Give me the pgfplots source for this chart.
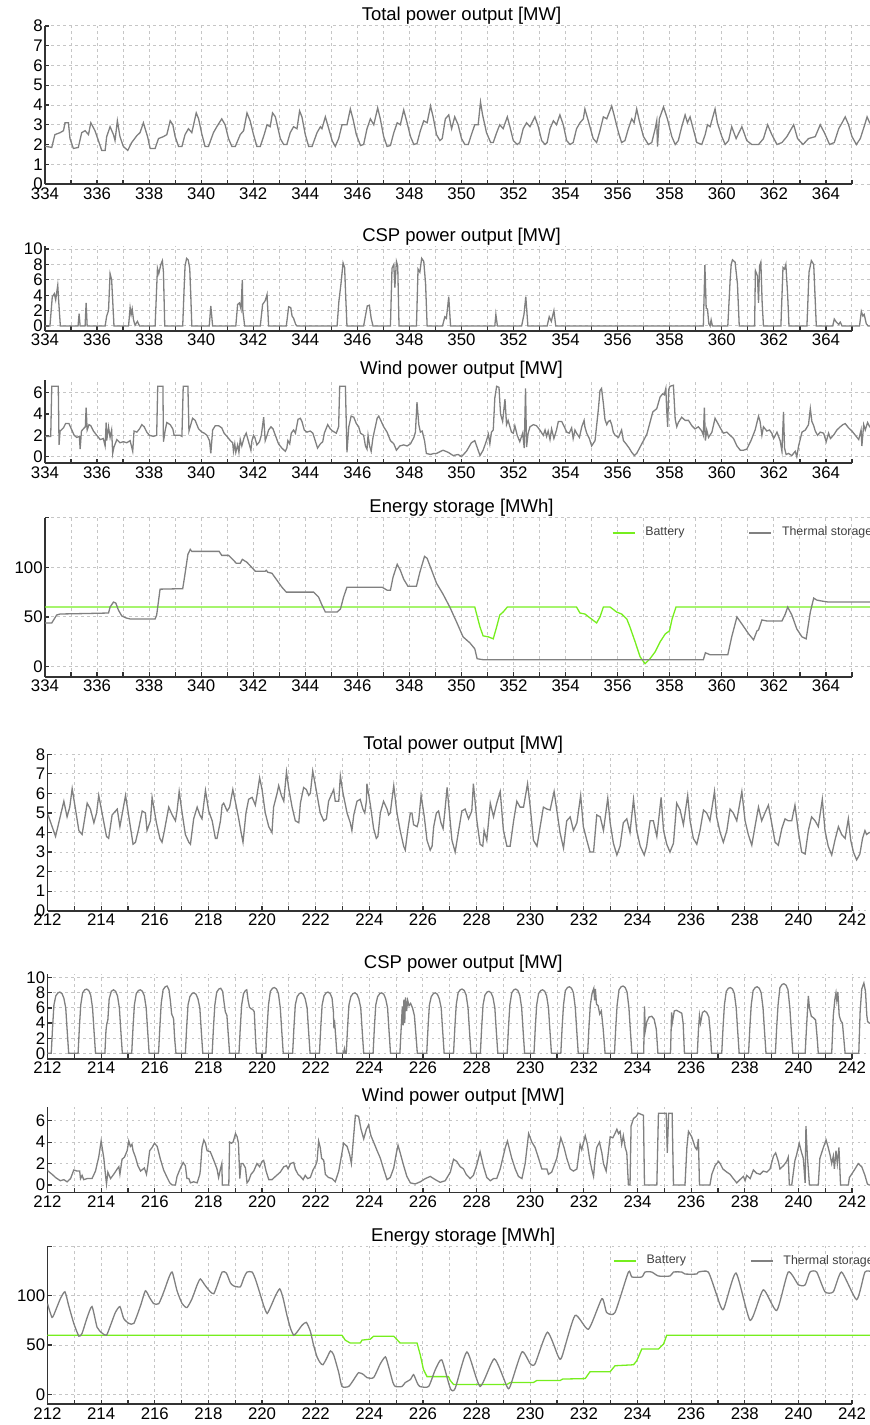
\documentclass[border=0pt]{standalone}
\usepackage{fontspec}
\setmainfont{Liberation Sans}
\usepackage{pgfplots}
\pgfplotsset{compat=1.18}

\definecolor{linegray}{RGB}{128,128,128}
\definecolor{battgreen}{RGB}{118,238,30}
\definecolor{gridgray}{RGB}{198,198,198}

\pgfplotsset{
  every axis title/.style={at={(0.5,1)}, anchor=base, yshift=2.5pt,
    font=\fontsize{9.25}{10}\selectfont},
  panel/.style={
    scale only axis,
    anchor=south west,
    axis lines*=left,
    axis line style={black!80, line width=0.9pt},
    tick align=inside,
    major tick length=2.2pt, minor tick length=2.2pt,
    tick style={black!80, line width=0.6pt},
    grid=both,
    major grid style={gridgray, dash pattern=on 1.4pt off 1.6pt, line width=0.5pt},
    minor grid style={gridgray, dash pattern=on 1.4pt off 1.6pt, line width=0.5pt},
    /pgf/number format/assume math mode=true,
    tick label style={font=\fontsize{8.4}{9}\selectfont},
    yticklabel style={inner xsep=1pt},
    xticklabel style={inner ysep=1.5pt},
    every axis plot/.append style={line width=0.65pt},
    legend style={draw=none, fill=none, inner sep=0pt, text=black!75,
      font=\fontsize{6.2}{7}\selectfont, legend columns=2,
      /tikz/every even column/.append style={column sep=30pt}},
    legend image code/.code={\draw[#1, line width=0.8pt] (0pt,0pt) -- (11pt,0pt); \path (14pt,0pt);},
  },
  toprow/.style={panel, width=416.5pt, xmin=334, xmax=366,
    xtick={334,336,...,364}, minor xtick={335,337,...,365},
    x axis line style={shorten >=13pt}},
  botrow/.style={panel, width=415.7pt, xmin=212, xmax=243,
    xtick={212,214,...,242}, minor xtick={213,215,...,243},
    x axis line style={shorten >=13.4pt}},
}

\begin{document}
\begin{tikzpicture}

% ---------- days 334-366 ----------
\begin{axis}[toprow, at={(22.5pt,-92pt)}, height=79pt,
  ymin=0, ymax=8, ytick={0,1,...,8},
  title={Total power output [MW]}]
\addplot[linegray] coordinates {
(334.00,1.9)(334.06,1.9)(334.26,1.85)(334.38,2.5)(334.58,2.6)(334.71,2.7)(334.77,3.1)(334.90,3.1)(334.96,2.3)(335.09,1.8)(335.28,1.85)(335.41,2.6)(335.54,2.7)(335.67,2.5)(335.76,3.1)(335.92,2.7)(336.05,2.2)(336.18,1.7)(336.31,1.7)(336.37,2.4)(336.50,2.9)(336.63,2.5)(336.69,2.2)(336.78,3.2)(336.88,2.4)(337.01,1.9)(337.18,1.7)(337.33,2.1)(337.53,2.45)(337.65,2.6)(337.78,3.1)(337.87,2.7)(337.94,2.4)(338.04,1.8)(338.23,1.8)(338.36,2.3)(338.55,2.4)(338.68,2.5)(338.81,3.2)(338.91,3.0)(339.00,2.4)(339.13,1.9)(339.26,1.9)(339.38,2.5)(339.51,2.8)(339.64,2.6)(339.81,3.6)(339.90,3.3)(340.03,2.5)(340.15,1.9)(340.28,1.9)(340.47,2.6)(340.60,2.9)(340.79,3.3)(340.92,3.0)(341.05,2.3)(341.18,1.9)(341.31,1.9)(341.50,2.5)(341.63,2.7)(341.76,3.6)(341.88,3.2)(342.01,2.5)(342.14,1.9)(342.27,1.9)(342.42,2.5)(342.53,3.0)(342.65,2.9)(342.74,3.6)(342.85,3.4)(343.04,2.3)(343.17,2.0)(343.29,2.0)(343.42,2.6)(343.55,2.9)(343.68,2.8)(343.78,3.7)(343.87,3.4)(344.00,2.5)(344.13,1.9)(344.26,1.9)(344.45,2.6)(344.58,2.9)(344.64,2.8)(344.77,3.4)(344.90,2.8)(345.03,2.2)(345.15,1.9)(345.28,2.3)(345.41,3.0)(345.60,3.0)(345.73,3.8)(345.83,3.3)(345.96,2.5)(346.12,1.95)(346.24,2.0)(346.37,2.8)(346.50,3.3)(346.63,3.0)(346.78,3.85)(346.88,3.3)(347.01,2.4)(347.14,1.9)(347.27,1.95)(347.40,2.6)(347.53,3.1)(347.65,3.0)(347.78,3.75)(347.91,3.1)(348.04,2.4)(348.17,2.0)(348.29,2.05)(348.42,2.7)(348.55,3.2)(348.68,3.1)(348.81,3.95)(348.91,3.4)(349.04,2.5)(349.17,2.2)(349.26,2.3)(349.38,3.3)(349.51,3.5)(349.62,2.8)(349.74,3.4)(349.87,3.0)(350.00,2.3)(350.13,2.0)(350.26,2.0)(350.38,2.5)(350.51,3.0)(350.64,3.0)(350.73,4.15)(350.81,3.5)(350.96,2.6)(351.12,2.1)(351.22,2.1)(351.35,2.6)(351.47,3.0)(351.60,2.8)(351.76,3.4)(351.86,2.9)(351.99,2.2)(352.14,2.0)(352.24,2.1)(352.37,2.8)(352.50,3.1)(352.63,2.9)(352.82,3.4)(352.95,2.9)(353.08,2.2)(353.21,2.0)(353.29,2.1)(353.40,2.8)(353.53,3.2)(353.65,3.0)(353.78,3.5)(353.91,3.0)(354.04,2.2)(354.17,2.0)(354.29,2.1)(354.42,2.8)(354.55,3.1)(354.68,3.3)(354.74,3.8)(354.87,3.2)(355.06,2.3)(355.19,2.1)(355.32,2.7)(355.45,3.4)(355.58,3.3)(355.77,3.95)(355.86,3.5)(356.03,2.6)(356.15,2.1)(356.28,2.2)(356.41,2.8)(356.54,3.3)(356.63,3.1)(356.73,3.8)(356.83,3.2)(356.99,2.4)(357.18,2.0)(357.31,2.1)(357.44,2.8)(357.50,3.2)(357.53,1.9)(357.60,3.3)(357.76,3.9)(357.91,3.3)(358.08,2.4)(358.21,2.0)(358.33,2.2)(358.46,2.9)(358.59,3.5)(358.68,3.1)(358.78,3.4)(358.94,2.6)(359.04,2.1)(359.23,2.0)(359.36,2.5)(359.45,3.0)(359.55,2.9)(359.74,3.8)(359.83,3.1)(360.00,2.4)(360.13,2.0)(360.26,2.2)(360.38,2.9)(360.55,2.3)(360.77,2.9)(360.96,2.2)(361.15,2.0)(361.41,2.0)(361.60,2.3)(361.76,3.0)(361.92,2.5)(362.12,2.0)(362.31,2.1)(362.50,2.4)(362.76,3.0)(362.91,2.3)(363.12,2.0)(363.33,2.3)(363.59,2.4)(363.78,3.0)(363.94,2.6)(364.14,2.0)(364.32,2.1)(364.49,2.8)(364.62,3.1)(364.74,3.4)(364.87,3.0)(365.00,2.4)(365.17,2.0)(365.32,2.3)(365.49,3.0)(365.58,3.4)(365.68,3.1)(365.80,3.0)
};
\end{axis}

\begin{axis}[toprow, at={(22.5pt,-165.3pt)}, height=42.3pt,
  ymin=-0.6, ymax=10.4, ytick={0,2,...,10},
  title={CSP power output [MW]}]
\addplot[linegray] coordinates {
(334.00,0)(334.19,0)(334.28,3.8)(334.36,4.2)(334.41,3.4)(334.49,5.3)(334.53,3.0)(334.59,0)(335.27,0)(335.31,1.6)(335.35,0)(335.54,0)(335.58,3.0)(335.62,0)(336.31,0)(336.37,1.3)(336.44,2.0)(336.50,6.8)(336.56,6.0)(336.65,0)(337.21,0)(337.27,2.4)(337.31,1.5)(337.35,2.2)(337.40,0.8)(337.46,0.1)(337.55,0.6)(337.63,0)(338.23,0)(338.32,7.5)(338.37,6.8)(338.45,8.0)(338.51,8.5)(338.55,7.0)(338.60,0)(339.29,0)(339.34,4.5)(339.38,7.8)(339.44,8.8)(339.50,8.6)(339.56,7.5)(339.60,4.0)(339.64,0)(340.31,0)(340.37,2.6)(340.44,0)(341.33,0)(341.40,2.8)(341.47,3.0)(341.53,2.2)(341.58,6.0)(341.60,2.0)(341.67,0)(342.27,0)(342.36,2.8)(342.46,3.3)(342.53,4.1)(342.59,0)(343.27,0)(343.36,2.5)(343.44,2.4)(343.49,1.3)(343.55,1.0)(343.63,0.2)(343.68,0)(345.22,0)(345.29,3.2)(345.37,5.5)(345.45,8.2)(345.51,7.6)(345.55,4.0)(345.60,0)(346.24,0)(346.32,1.5)(346.38,2.6)(346.46,2.7)(346.53,1.0)(346.60,0)(347.27,0)(347.33,7.5)(347.40,8.0)(347.44,5.0)(347.50,8.4)(347.55,7.8)(347.60,0)(348.27,0)(348.33,7.4)(348.40,7.0)(348.47,8.8)(348.55,8.4)(348.62,5.5)(348.68,0)(349.27,0)(349.36,1.2)(349.42,1.0)(349.51,3.8)(349.58,0)(351.28,0)(351.32,1.5)(351.38,0)(352.31,0)(352.40,1.5)(352.47,3.8)(352.55,0)(353.29,0)(353.37,1.2)(353.45,0.6)(353.55,2.0)(353.62,0)(359.29,0)(359.35,7.9)(359.40,2.3)(359.45,2.2)(359.50,0.3)(359.55,0)(359.59,0.8)(359.64,0)(360.23,0)(360.32,6.0)(360.36,8.0)(360.41,8.6)(360.51,8.3)(360.60,5.5)(360.67,0)(361.26,0)(361.29,7.2)(361.37,6.5)(361.41,3.0)(361.45,7.8)(361.50,8.3)(361.55,3.0)(361.60,0)(362.27,0)(362.35,7.6)(362.41,7.4)(362.46,8.0)(362.53,4.0)(362.58,0)(363.27,0)(363.35,7.0)(363.44,8.5)(363.53,8.0)(363.63,0)(364.26,0)(364.32,0.9)(364.40,0.5)(364.49,0.2)(364.55,0.5)(364.62,0)(365.29,0)(365.36,1.9)(365.42,1.3)(365.47,1.5)(365.55,0.3)(365.62,0)(365.80,0)
};
\end{axis}

\begin{axis}[toprow, at={(22.5pt,-231.5pt)}, height=41.55pt,
  ymin=-0.6, ymax=7.2, ytick={0,2,4,6},
  title={Wind power output [MW]}]
\addplot[linegray] coordinates {
(334.00,1.9)(334.22,1.9)(334.26,6.6)(334.51,6.6)(334.54,1.1)(334.58,2.4)(334.71,2.7)(334.79,3.1)(334.92,3.1)(335.03,2.5)(335.12,2.0)(335.22,1.8)(335.32,1.9)(335.35,0.7)(335.40,2.4)(335.47,2.6)(335.55,2.8)(335.58,4.6)(335.62,2.5)(335.69,3.0)(335.76,2.9)(335.86,2.4)(335.99,2.0)(336.12,1.6)(336.24,1.7)(336.31,1.0)(336.35,3.2)(336.37,1.5)(336.44,2.8)(336.50,1.8)(336.56,2.5)(336.60,0.3)(336.65,0.9)(336.76,1.6)(336.88,1.3)(337.01,1.4)(337.14,1.3)(337.27,1.5)(337.37,0.5)(337.42,2.4)(337.53,2.3)(337.63,2.6)(337.72,3.0)(337.81,2.8)(337.91,2.3)(338.01,2.0)(338.17,1.9)(338.29,2.0)(338.33,6.6)(338.53,6.6)(338.55,1.4)(338.62,2.5)(338.68,3.2)(338.81,3.0)(338.91,2.6)(338.96,2.0)(339.19,2.0)(339.26,1.9)(339.31,6.6)(339.49,6.6)(339.53,2.4)(339.60,3.0)(339.67,3.6)(339.77,3.4)(339.90,2.6)(340.03,2.3)(340.12,2.2)(340.22,2.0)(340.32,1.5)(340.37,0.3)(340.44,2.5)(340.54,2.9)(340.67,2.9)(340.79,2.7)(340.88,2.2)(340.99,1.9)(341.12,1.5)(341.21,1.3)(341.24,0.5)(341.29,1.2)(341.33,0.4)(341.40,1.1)(341.45,0.4)(341.50,1.6)(341.56,1.0)(341.65,1.8)(341.73,2.2)(341.82,1.4)(341.91,0.6)(341.95,1.5)(342.01,2.0)(342.06,1.8)(342.14,1.1)(342.24,1.4)(342.31,2.0)(342.40,3.7)(342.46,1.5)(342.53,2.0)(342.59,2.5)(342.68,2.8)(342.76,2.6)(342.85,2.0)(342.97,1.2)(343.10,0.8)(343.23,0.5)(343.29,0.8)(343.33,1.5)(343.40,1.2)(343.46,2.2)(343.55,2.5)(343.62,2.2)(343.72,3.5)(343.81,3.6)(343.87,3.3)(343.96,2.5)(344.06,2.3)(344.19,2.4)(344.29,2.2)(344.38,1.5)(344.47,0.8)(344.58,1.2)(344.67,1.4)(344.73,2.2)(344.86,3.0)(344.96,2.6)(345.05,2.4)(345.19,2.2)(345.28,2.8)(345.32,6.6)(345.54,6.6)(345.60,0.4)(345.67,2.8)(345.76,3.8)(345.86,3.7)(345.96,3.1)(346.05,2.8)(346.12,2.2)(346.24,2.0)(346.31,1.0)(346.37,0.7)(346.41,2.0)(346.47,1.0)(346.53,0.5)(346.60,1.8)(346.69,2.8)(346.76,3.6)(346.82,3.8)(346.88,3.5)(347.01,2.8)(347.14,2.3)(347.27,1.5)(347.40,1.2)(347.50,0.6)(347.63,1.0)(347.78,1.1)(347.91,1.0)(348.04,1.2)(348.17,1.8)(348.23,2.3)(348.29,5.1)(348.36,3.0)(348.42,2.3)(348.49,2.4)(348.58,1.5)(348.65,0.3)(348.81,0.2)(348.94,0.3)(349.04,0.3)(349.29,0.6)(349.49,0.4)(349.68,0.1)(349.87,0.2)(350.00,0.0)(350.19,0.5)(350.38,1.3)(350.51,1.5)(350.64,0.6)(350.71,0.1)(350.83,0.6)(350.96,1.5)(351.03,2.1)(351.09,1.2)(351.15,2.3)(351.22,2.5)(351.28,5.5)(351.35,6.6)(351.44,6.5)(351.50,4.0)(351.58,3.3)(351.67,5.4)(351.73,3.0)(351.79,3.4)(351.86,2.8)(351.92,2.3)(351.99,2.2)(352.05,2.9)(352.14,2.0)(352.24,1.4)(352.35,2.2)(352.41,0.8)(352.46,6.4)(352.50,0.9)(352.56,2.2)(352.63,2.8)(352.76,3.0)(352.88,2.9)(353.01,2.5)(353.14,2.0)(353.21,2.5)(353.27,1.9)(353.33,2.4)(353.40,1.6)(353.46,2.6)(353.55,1.7)(353.65,2.5)(353.72,3.3)(353.85,3.3)(353.97,2.7)(354.04,2.3)(354.14,2.2)(354.23,2.7)(354.29,1.7)(354.36,2.5)(354.42,2.2)(354.53,1.8)(354.62,2.8)(354.71,3.4)(354.74,2.8)(354.81,2.2)(354.91,1.7)(355.00,1.0)(355.13,1.5)(355.26,4.5)(355.32,6.2)(355.38,6.4)(355.45,5.0)(355.51,3.5)(355.58,3.0)(355.64,3.3)(355.71,3.4)(355.77,3.0)(355.83,2.3)(355.90,2.0)(356.03,1.8)(356.15,2.5)(356.22,1.5)(356.32,1.2)(356.44,0.8)(356.54,0.4)(356.64,0.1)(356.73,0.3)(356.86,0.9)(356.99,1.5)(357.12,2.1)(357.24,3.2)(357.35,4.2)(357.50,4.5)(357.63,5.6)(357.73,5.9)(357.79,5.8)(357.85,6.4)(357.88,4.5)(357.92,2.8)(357.96,6.3)(358.01,6.6)(358.14,6.7)(358.21,3.5)(358.27,2.8)(358.33,3.2)(358.46,3.7)(358.59,3.4)(358.72,3.4)(358.85,2.9)(358.97,2.6)(359.10,2.8)(359.23,2.4)(359.29,2.0)(359.33,4.6)(359.37,1.5)(359.42,2.5)(359.49,1.8)(359.62,2.3)(359.74,3.6)(359.83,3.2)(359.94,2.7)(360.06,2.2)(360.19,2.3)(360.32,2.0)(360.45,1.7)(360.58,1.0)(360.71,0.6)(360.83,0.6)(360.96,0.7)(361.12,1.5)(361.28,2.5)(361.41,3.8)(361.47,3.3)(361.54,2.0)(361.60,2.8)(361.73,2.4)(361.83,2.5)(361.92,2.2)(361.99,1.7)(362.12,2.3)(362.24,1.5)(362.31,0.5)(362.37,4.2)(362.41,0.8)(362.47,0.2)(362.56,0.3)(362.69,0.1)(362.82,0.5)(362.88,0.0)(362.95,1.0)(363.08,2.3)(363.21,2.5)(363.33,3.0)(363.40,4.5)(363.46,3.3)(363.53,2.9)(363.59,2.4)(363.68,2.0)(363.78,2.3)(363.91,2.2)(364.01,1.4)(364.10,2.2)(364.17,1.7)(364.29,2.0)(364.42,2.5)(364.55,2.8)(364.65,3.0)(364.74,3.1)(364.87,2.7)(365.00,2.4)(365.13,2.0)(365.26,1.6)(365.35,2.5)(365.38,1.0)(365.45,3.0)(365.51,2.5)(365.60,3.2)(365.68,2.8)(365.80,2.6)
};
\end{axis}

\begin{axis}[toprow, at={(22.5pt,-338.3pt)}, height=79.5pt,
  ymin=-10, ymax=150, ytick={0,50,100,150}, yticklabels={0,50,100,{}},
  title={Energy storage [MWh]},
  legend style={at={(0.68,0.905)}, anchor=west}]
\addplot[battgreen] coordinates {
(334.00,60)(350.51,60)(350.71,40)(350.83,31)(351.03,30)(351.22,28)(351.35,40)(351.47,52)(351.60,55)(351.76,60)(354.42,60)(354.55,54)(354.74,53)(354.94,49)(355.19,44)(355.32,50)(355.45,60)(355.71,60)(355.96,55)(356.15,53)(356.35,48)(356.47,40)(356.67,25)(356.86,10)(357.05,3)(357.24,8)(357.44,15)(357.63,25)(357.83,33)(357.99,36)(358.09,48)(358.24,60)(365.80,60)
};
\addlegendentry{Battery}
\addplot[linegray] coordinates {
(334.00,44)(334.26,44)(334.45,52)(334.58,53)(335.60,53.5)(336.44,54)(336.50,60)(336.63,65)(336.72,64)(336.82,57)(336.95,51)(337.12,49)(337.27,48)(338.23,48)(338.29,52)(338.42,78)(339.29,78.5)(339.36,90)(339.49,113)(339.58,118)(339.64,116)(340.69,116)(340.79,112)(341.05,112)(341.21,108)(341.35,104)(341.50,104)(341.58,108)(341.76,105)(342.08,96)(342.46,96)(342.50,97)(342.56,95)(342.72,94)(342.91,87)(343.10,80)(343.27,75)(344.32,75)(344.51,70)(344.64,62)(344.77,55)(345.22,55)(345.35,58)(345.47,70)(345.60,80)(346.95,80)(347.14,77)(347.27,77)(347.37,90)(347.53,103)(347.65,97)(347.78,88)(347.94,81)(348.27,81)(348.40,95)(348.58,111)(348.68,109)(348.81,100)(349.04,84)(349.29,73)(349.55,60)(349.81,45)(350.06,30)(350.32,24)(350.51,18)(350.60,8)(350.83,7)(359.29,7)(359.37,14)(359.55,12)(360.23,12)(360.38,30)(360.58,50)(360.77,43)(361.03,33)(361.22,27)(361.35,36)(361.41,37)(361.54,47)(361.73,46)(362.31,46)(362.44,53)(362.53,60)(362.69,52)(362.88,38)(363.08,30)(363.24,28)(363.40,55)(363.53,69)(363.65,67)(363.85,66)(364.10,65)(365.80,65)
};
\addlegendentry{Thermal storage}
\end{axis}

% ---------- days 212-243 ----------
\begin{axis}[botrow, at={(23.75pt,-455.35pt)}, height=78.2pt,
  ymin=0, ymax=8, ytick={0,1,...,8},
  title={Total power output [MW]}]
\addplot[linegray] coordinates {
(212.00,4.9)(212.02,4.9)(212.30,3.8)(212.61,5.6)(212.73,4.8)(212.83,5.3)(212.92,6.25)(213.17,4.1)(213.29,3.9)(213.48,5.5)(213.60,5.2)(213.73,4.5)(213.83,5.0)(213.91,5.9)(214.20,3.8)(214.28,3.7)(214.41,4.9)(214.60,5.2)(214.70,4.3)(214.91,5.9)(215.19,3.4)(215.28,3.5)(215.40,4.2)(215.53,5.1)(215.65,5.0)(215.71,4.1)(215.84,4.6)(215.90,5.8)(216.06,4.5)(216.19,3.7)(216.27,3.5)(216.36,4.1)(216.52,5.3)(216.65,4.9)(216.77,4.6)(216.83,5.1)(216.91,6.1)(217.02,5.0)(217.14,3.9)(217.27,3.5)(217.33,3.4)(217.45,4.7)(217.58,5.3)(217.68,4.9)(217.76,4.7)(217.89,6.15)(218.01,5.1)(218.14,4.6)(218.26,3.7)(218.32,3.7)(218.45,4.6)(218.51,5.4)(218.57,5.5)(218.70,5.1)(218.79,5.3)(218.91,6.2)(219.03,5.4)(219.13,4.7)(219.22,4.0)(219.29,3.5)(219.40,5.0)(219.50,5.7)(219.63,5.8)(219.75,5.4)(219.81,5.9)(219.91,6.8)(220.00,6.2)(220.12,5.0)(220.25,4.3)(220.37,4.0)(220.43,5.3)(220.56,6.0)(220.62,6.4)(220.72,5.9)(220.81,5.6)(220.91,7.1)(220.99,6.3)(221.12,5.3)(221.24,4.6)(221.37,4.5)(221.43,5.5)(221.55,6.3)(221.65,6.2)(221.74,5.9)(221.80,6.0)(221.89,7.15)(221.99,6.4)(222.17,5.0)(222.30,4.6)(222.40,4.7)(222.48,5.6)(222.67,6.2)(222.73,5.6)(222.86,5.6)(222.92,6.9)(223.02,6.0)(223.17,5.0)(223.29,4.5)(223.35,4.1)(223.42,4.9)(223.54,5.6)(223.66,5.7)(223.76,5.2)(223.83,5.0)(223.89,5.6)(223.91,6.5)(224.04,5.4)(224.16,4.2)(224.26,3.7)(224.32,3.8)(224.41,5.0)(224.53,5.6)(224.66,5.2)(224.72,4.9)(224.78,5.0)(224.91,6.4)(225.03,5.0)(225.15,4.1)(225.28,3.3)(225.34,3.1)(225.43,4.1)(225.53,5.0)(225.59,5.0)(225.65,4.4)(225.78,4.3)(225.84,4.6)(225.93,5.9)(226.05,4.8)(226.15,3.6)(226.27,3.1)(226.34,3.3)(226.40,4.3)(226.50,5.0)(226.58,5.1)(226.67,4.5)(226.75,4.2)(226.81,5.0)(226.90,6.3)(227.08,3.6)(227.20,3.0)(227.33,4.1)(227.45,5.1)(227.57,5.2)(227.70,4.7)(227.82,5.1)(227.88,6.5)(228.01,4.6)(228.13,3.4)(228.23,3.3)(228.28,4.1)(228.38,3.6)(228.51,5.5)(228.63,4.8)(228.75,5.5)(228.88,6.1)(229.00,4.1)(229.13,3.3)(229.25,3.3)(229.38,4.6)(229.50,5.6)(229.62,5.3)(229.75,5.3)(229.90,6.5)(230.00,5.3)(230.12,3.6)(230.25,3.3)(230.37,4.3)(230.49,5.3)(230.62,5.2)(230.74,5.15)(230.89,6.1)(230.99,5.15)(231.11,4.0)(231.24,3.2)(231.36,4.6)(231.49,4.8)(231.61,4.1)(231.74,4.5)(231.88,5.9)(231.98,4.3)(232.11,3.6)(232.23,3.0)(232.36,3.0)(232.48,4.9)(232.61,4.8)(232.73,4.1)(232.89,5.75)(232.98,4.5)(233.10,3.45)(233.23,2.85)(233.35,3.3)(233.47,4.5)(233.60,4.7)(233.72,4.0)(233.85,5.7)(233.97,4.1)(234.10,3.3)(234.25,2.85)(234.34,3.3)(234.47,4.6)(234.59,4.6)(234.72,3.8)(234.88,5.8)(234.97,4.1)(235.09,3.4)(235.21,3.0)(235.34,3.45)(235.46,5.5)(235.59,5.15)(235.71,4.4)(235.87,5.9)(235.96,4.6)(236.08,3.7)(236.21,3.4)(236.33,4.1)(236.46,5.15)(236.58,5.0)(236.70,4.6)(236.87,6.1)(236.95,4.8)(237.08,4.0)(237.20,3.5)(237.33,4.1)(237.45,5.2)(237.57,5.0)(237.70,4.6)(237.89,6.1)(238.01,4.6)(238.13,3.9)(238.26,3.35)(238.38,4.3)(238.51,5.3)(238.63,4.6)(238.75,5.0)(238.88,5.4)(239.00,4.5)(239.13,3.5)(239.25,3.35)(239.38,4.2)(239.50,4.7)(239.62,4.6)(239.75,4.6)(239.87,5.4)(240.00,4.0)(240.12,3.0)(240.25,2.9)(240.37,4.1)(240.49,4.8)(240.62,4.6)(240.74,4.3)(240.89,5.7)(240.99,4.1)(241.11,3.3)(241.24,2.85)(241.36,3.6)(241.49,4.3)(241.61,3.9)(241.74,3.7)(241.86,4.7)(241.95,3.6)(242.05,3.0)(242.17,2.6)(242.29,2.9)(242.39,3.7)(242.48,4.1)(242.54,3.9)(242.64,4.0)(242.75,4.0)
};
\end{axis}

\begin{axis}[botrow, at={(23.75pt,-529.3pt)}, height=42.35pt,
  ymin=-0.7, ymax=10.5, ytick={0,2,...,10},
  title={CSP power output [MW]}]
\addplot[linegray] coordinates {
(212.00,0)(212.14,0)(212.19,3.5)(212.24,6.4)(212.31,7.6)(212.39,8.0)(212.46,8.1)(212.54,7.9)(212.61,7.3)(212.68,6.0)(212.73,3.2)(212.79,0)
(213.14,0)(213.19,3.5)(213.24,6.4)(213.31,8.0)(213.39,8.4)(213.46,8.5)(213.54,8.3)(213.61,7.7)(213.68,6.0)(213.73,3.2)(213.79,0)
(214.14,0)(214.18,3.0)(214.21,3.9)(214.25,4.4)(214.30,7.2)(214.38,8.2)(214.46,8.4)(214.54,8.2)(214.61,7.6)(214.68,6.0)(214.73,3.2)(214.79,0)
(215.14,0)(215.19,3.5)(215.24,6.4)(215.31,7.9)(215.39,8.3)(215.46,8.4)(215.54,8.2)(215.61,7.6)(215.68,6.0)(215.73,3.2)(215.79,0)
(216.14,0)(216.19,3.5)(216.24,6.6)(216.31,8.4)(216.39,8.8)(216.46,8.9)(216.53,8.4)(216.58,7.0)(216.63,5.2)(216.70,4.6)(216.74,2.0)(216.79,0)
(217.14,0)(217.19,3.5)(217.24,6.4)(217.31,7.5)(217.39,7.9)(217.46,8.0)(217.54,7.8)(217.61,7.2)(217.68,6.0)(217.73,3.2)(217.79,0)
(218.14,0)(218.19,3.5)(218.24,6.4)(218.31,8.1)(218.39,8.5)(218.46,8.6)(218.53,8.2)(218.58,6.8)(218.63,5.5)(218.69,5.0)(218.74,2.5)(218.79,0)
(219.14,0)(219.19,3.5)(219.24,6.4)(219.31,7.9)(219.38,8.3)(219.43,8.4)(219.48,7.0)(219.53,6.1)(219.59,5.9)(219.65,5.8)(219.71,5.5)(219.75,2.5)(219.79,0)
(220.14,0)(220.19,3.5)(220.24,6.4)(220.31,8.2)(220.39,8.6)(220.46,8.7)(220.54,8.5)(220.61,7.9)(220.68,6.0)(220.73,3.2)(220.79,0)
(221.14,0)(221.19,3.5)(221.24,6.4)(221.31,7.5)(221.39,7.9)(221.46,8.0)(221.54,7.8)(221.61,7.2)(221.68,6.0)(221.73,3.2)(221.79,0)
(222.14,0)(222.19,3.5)(222.24,6.4)(222.31,7.6)(222.39,8.0)(222.46,8.1)(222.54,7.9)(222.61,7.3)(222.66,5.5)(222.68,3.3)(222.70,4.4)(222.74,2.5)(222.79,0)
(223.04,0)(223.07,0.6)(223.10,0)(223.14,0)(223.19,3.5)(223.24,6.4)(223.31,7.5)(223.39,7.9)(223.46,8.0)(223.54,7.8)(223.61,7.2)(223.68,6.0)(223.73,3.2)(223.79,0)
(224.14,0)(224.19,3.5)(224.24,6.4)(224.31,7.5)(224.39,7.9)(224.46,8.0)(224.54,7.8)(224.61,7.2)(224.68,6.0)(224.73,3.2)(224.79,0)
(225.14,0)(225.19,3.5)(225.23,6.2)(225.26,3.7)(225.29,7.1)(225.32,4.0)(225.35,7.4)(225.39,5.6)(225.43,7.0)(225.48,6.3)(225.54,6.6)(225.61,6.0)(225.68,5.0)(225.73,2.8)(225.79,0)
(226.14,0)(226.19,3.5)(226.24,6.4)(226.31,7.5)(226.39,7.9)(226.46,8.0)(226.54,7.8)(226.61,7.2)(226.68,6.0)(226.73,3.2)(226.79,0)
(227.14,0)(227.19,3.5)(227.24,6.4)(227.31,8.0)(227.39,8.4)(227.46,8.5)(227.54,8.3)(227.61,7.7)(227.68,6.0)(227.73,3.2)(227.79,0)
(228.14,0)(228.19,3.5)(228.24,6.4)(228.31,7.7)(228.39,8.1)(228.46,8.2)(228.54,8.0)(228.61,7.4)(228.68,6.0)(228.73,3.2)(228.79,0)
(229.14,0)(229.19,3.5)(229.24,6.4)(229.31,8.0)(229.39,8.4)(229.46,8.5)(229.54,8.3)(229.61,7.7)(229.68,6.0)(229.73,3.2)(229.79,0)
(230.14,0)(230.19,3.5)(230.24,6.4)(230.31,7.9)(230.39,8.3)(230.46,8.4)(230.54,8.2)(230.61,7.6)(230.68,6.0)(230.73,3.2)(230.79,0)
(231.14,0)(231.19,3.5)(231.24,6.4)(231.31,8.3)(231.39,8.7)(231.46,8.8)(231.54,8.6)(231.61,8.0)(231.68,6.0)(231.73,3.2)(231.79,0)
(232.14,0)(232.19,3.5)(232.24,6.4)(232.31,8.0)(232.37,8.6)(232.40,7.0)(232.43,8.5)(232.47,6.5)(232.53,6.3)(232.59,5.2)(232.65,5.6)(232.72,3.2)(232.79,0)
(233.14,0)(233.19,3.5)(233.24,6.4)(233.31,8.4)(233.39,8.8)(233.46,8.9)(233.54,8.7)(233.61,8.1)(233.68,6.0)(233.73,3.2)(233.79,0)
(234.23,0)(234.26,6.2)(234.29,3.0)(234.35,4.2)(234.43,4.8)(234.53,4.9)(234.62,4.5)(234.70,3.2)(234.76,0)
(235.23,0)(235.27,5.4)(235.30,4.1)(235.37,5.6)(235.45,5.7)(235.55,5.5)(235.65,5.3)(235.70,4.0)(235.75,0)
(236.23,0)(236.27,3.0)(236.31,5.0)(236.35,4.0)(236.42,5.4)(236.50,5.6)(236.58,5.4)(236.66,4.8)(236.72,2.5)(236.76,0)
(237.14,0)(237.19,3.5)(237.24,6.4)(237.31,8.2)(237.39,8.6)(237.46,8.7)(237.54,8.5)(237.61,7.9)(237.68,6.0)(237.73,3.2)(237.79,0)
(238.14,0)(238.19,3.5)(238.24,6.4)(238.31,8.3)(238.39,8.7)(238.46,8.8)(238.54,8.6)(238.61,8.0)(238.68,6.0)(238.73,3.2)(238.79,0)
(239.14,0)(239.19,3.5)(239.24,6.4)(239.31,8.7)(239.39,9.1)(239.46,9.2)(239.54,9.0)(239.61,8.4)(239.68,6.0)(239.73,3.2)(239.79,0)
(240.25,0)(240.31,4.0)(240.37,7.6)(240.41,6.0)(240.48,4.9)(240.56,4.7)(240.64,4.4)(240.70,2.0)(240.74,0)
(241.24,0)(241.30,5.0)(241.36,7.2)(241.40,8.0)(241.43,7.0)(241.47,8.1)(241.52,5.0)(241.58,4.3)(241.64,4.0)(241.69,2.0)(241.74,0)
(242.25,0)(242.30,5.5)(242.36,8.5)(242.44,9.3)(242.50,8.2)(242.55,5.0)(242.58,4.2)(242.64,4.0)(242.75,3.9)
};
\end{axis}

\begin{axis}[botrow, at={(23.75pt,-596.25pt)}, height=42.9pt,
  ymin=-0.7, ymax=7.3, ytick={0,2,4,6},
  title={Wind power output [MW]}]
\addplot[linegray] coordinates {
(212.00,1.4)(212.02,1.3)(212.17,1.0)(212.30,0.7)(212.48,0.4)(212.61,0.5)(212.73,0.3)(212.86,0.6)(212.98,1.4)(213.10,1.3)(213.20,1.3)(213.23,0.6)(213.29,0.9)(213.35,0.5)(213.48,0.6)(213.66,0.6)(213.79,1.3)(213.91,2.6)(214.00,4.1)(214.10,2.5)(214.16,1.0)(214.20,0.1)(214.25,1.2)(214.35,0.6)(214.47,1.0)(214.60,1.5)(214.66,1.7)(214.70,1.0)(214.78,2.4)(214.87,2.6)(214.97,3.2)(215.03,4.1)(215.09,3.6)(215.15,3.8)(215.19,3.2)(215.28,2.6)(215.37,1.8)(215.47,1.3)(215.57,1.5)(215.61,1.6)(215.69,1.0)(215.74,1.8)(215.81,3.2)(215.90,3.5)(215.99,3.9)(216.09,3.6)(216.21,2.4)(216.33,1.4)(216.46,0.7)(216.56,0.2)(216.65,0.0)(216.77,0.0)(216.83,0.8)(216.96,1.6)(217.06,2.1)(217.14,1.8)(217.20,0.6)(217.27,0.6)(217.33,0.2)(217.45,0.3)(217.58,0.2)(217.68,1.0)(217.70,1.4)(217.76,3.5)(217.83,4.2)(217.89,3.9)(217.95,3.2)(218.07,3.1)(218.20,2.3)(218.32,1.5)(218.38,0.7)(218.45,1.5)(218.50,2.0)(218.52,0.0)(218.76,0.0)(218.79,4.0)(218.86,3.9)(218.92,4.0)(219.01,4.8)(219.07,4.5)(219.12,3.9)(219.17,0.6)(219.22,2.0)(219.29,2.0)(219.38,1.6)(219.44,0.2)(219.50,0.4)(219.59,1.0)(219.69,1.3)(219.81,2.0)(219.91,1.7)(220.00,2.2)(220.06,2.3)(220.15,1.3)(220.25,0.5)(220.37,0.5)(220.50,0.8)(220.68,1.2)(220.81,1.7)(220.91,1.8)(220.97,1.5)(221.06,2.0)(221.18,2.1)(221.24,1.5)(221.34,1.0)(221.43,0.8)(221.53,0.5)(221.61,0.9)(221.70,0.6)(221.80,0.7)(221.90,1.4)(221.99,1.8)(222.05,2.2)(222.11,4.1)(222.17,3.5)(222.22,2.5)(222.30,2.3)(222.36,1.0)(222.48,0.7)(222.61,0.6)(222.73,0.3)(222.86,1.3)(222.98,3.0)(223.04,3.9)(223.17,3.6)(223.27,2.8)(223.33,2.0)(223.39,3.8)(223.48,6.5)(223.60,6.4)(223.69,5.2)(223.79,4.3)(223.89,5.2)(223.97,5.6)(224.06,4.6)(224.16,4.0)(224.29,3.2)(224.41,2.5)(224.53,1.5)(224.66,0.5)(224.78,0.7)(224.91,1.6)(225.01,3.0)(225.07,3.7)(225.15,3.0)(225.28,1.8)(225.40,0.8)(225.53,0.2)(225.71,0.1)(225.90,0.3)(226.09,0.6)(226.27,0.8)(226.46,0.5)(226.64,0.25)(226.83,0.4)(227.02,1.2)(227.14,2.4)(227.26,2.2)(227.39,1.7)(227.51,1.5)(227.61,1.0)(227.76,0.6)(227.88,0.9)(228.01,1.9)(228.13,3.1)(228.26,1.7)(228.38,0.7)(228.51,0.4)(228.63,0.6)(228.75,0.6)(228.88,1.5)(229.07,3.5)(229.15,4.1)(229.31,2.5)(229.44,1.5)(229.56,0.8)(229.69,0.6)(229.81,2.0)(229.94,4.8)(230.06,4.0)(230.18,3.5)(230.31,2.5)(230.43,1.5)(230.56,1.5)(230.62,1.5)(230.68,1.0)(230.80,1.2)(230.99,2.5)(231.14,4.4)(231.26,3.5)(231.36,2.5)(231.49,1.5)(231.61,1.3)(231.74,1.5)(231.86,3.8)(231.92,3.3)(231.98,3.9)(232.05,4.6)(232.13,3.8)(232.21,2.5)(232.29,1.5)(232.36,0.8)(232.42,2.5)(232.48,3.5)(232.58,4.0)(232.67,3.0)(232.73,2.0)(232.83,1.3)(232.92,3.2)(232.98,4.5)(233.08,4.4)(233.16,4.8)(233.23,5.2)(233.29,4.8)(233.35,5.0)(233.41,3.8)(233.47,4.6)(233.54,3.5)(233.60,3.0)(233.66,0.0)(233.72,0.0)(233.76,5.5)(233.85,6.2)(233.95,6.4)(234.03,6.7)(234.22,6.5)(234.26,0.0)(234.72,0.0)(234.78,6.7)(235.07,6.7)(235.11,3.0)(235.16,6.7)(235.29,6.7)(235.34,0.0)(235.77,0.0)(235.84,3.5)(235.90,5.0)(236.02,4.5)(236.15,3.5)(236.21,3.3)(236.27,4.3)(236.31,0.0)(236.70,0.0)(236.77,1.0)(236.89,1.8)(237.02,2.2)(237.08,2.0)(237.18,1.5)(237.33,1.2)(237.45,1.0)(237.57,0.6)(237.70,0.2)(237.82,0.5)(237.95,0.8)(238.01,0.4)(238.07,0.9)(238.20,0.6)(238.26,1.0)(238.32,1.4)(238.44,1.1)(238.57,1.0)(238.69,1.3)(238.82,1.2)(238.94,1.5)(239.07,2.7)(239.15,3.0)(239.25,2.2)(239.31,1.5)(239.44,1.8)(239.56,2.2)(239.62,2.6)(239.66,0.0)(239.75,0.0)(239.87,2.3)(239.93,2.8)(240.03,3.9)(240.12,3.0)(240.18,2.5)(240.25,0.2)(240.28,5.5)(240.33,2.8)(240.41,0.0)(240.74,0.0)(240.80,2.5)(240.93,3.5)(241.03,4.2)(241.11,3.5)(241.18,2.8)(241.24,2.0)(241.30,2.7)(241.34,1.5)(241.40,3.2)(241.45,2.0)(241.51,3.5)(241.57,0.0)(241.86,0.0)(241.90,0.7)(241.98,1.0)(242.11,1.5)(242.23,2.0)(242.36,1.7)(242.48,0.9)(242.57,0.1)(242.64,0.0)(242.75,0.0)
};
\end{axis}

\begin{axis}[botrow, at={(23.75pt,-702.1pt)}, height=78.9pt,
  ymin=-10, ymax=150, ytick={0,50,100,150}, yticklabels={0,50,100,{}},
  title={Energy storage [MWh]},
  legend style={at={(0.68,0.907)}, anchor=west}]
\addplot[battgreen] coordinates {
(212.00,60)(222.98,60)(223.10,55)(223.29,52)(223.66,52)(223.73,55)(224.04,56)(224.16,59)(224.91,59)(225.15,52)(225.78,52)(225.90,40)(226.02,25)(226.15,18)(226.95,18)(227.02,14)(227.14,10)(229.13,10)(229.25,12)(230.12,12)(230.24,14)(231.11,14)(231.21,15.5)(232.05,16)(232.23,23)(232.98,23)(233.16,29)(233.85,30)(233.97,34)(234.16,46)(234.78,46)(234.97,51)(235.09,60)(242.75,60)
};
\addlegendentry{Battery}
\addplot[linegray, smooth, tension=0.35] coordinates {
(212.00,92)(212.17,78)(212.30,85)(212.48,97)(212.65,104)(212.79,90)(212.98,72)(213.17,59)(213.29,62)(213.48,78)(213.66,89)(213.85,68)(214.04,62)(214.20,60)(214.35,70)(214.53,83)(214.70,89)(214.84,77)(215.03,72)(215.22,72)(215.47,90)(215.65,105)(215.81,98)(215.96,92)(216.15,92)(216.35,105)(216.52,118)(216.65,124)(216.83,105)(217.02,92)(217.20,88)(217.39,97)(217.58,111)(217.70,117)(217.89,110)(218.07,104)(218.20,102)(218.32,110)(218.51,124)(218.67,123)(218.82,113)(218.94,110)(219.19,109)(219.32,118)(219.44,124)(219.63,124)(219.75,117)(219.88,106)(220.06,90)(220.19,82)(220.34,90)(220.50,100)(220.66,107)(220.78,98)(220.93,80)(221.06,67)(221.18,60)(221.30,63)(221.49,70)(221.65,73)(221.80,64)(221.92,50)(222.05,38)(222.17,32)(222.27,30)(222.40,36)(222.55,44)(222.67,40)(222.86,22)(222.98,8)(223.23,8)(223.42,15)(223.60,22)(223.79,20)(223.91,17)(224.16,17)(224.41,31)(224.60,38)(224.72,28)(224.88,12)(224.97,8)(225.22,8)(225.34,12)(225.53,15)(225.65,20)(225.78,12)(225.88,8)(226.21,8)(226.46,25)(226.70,35)(227.02,6)(227.20,6)(227.64,43)(228.13,8)(228.66,36)(229.13,8)(229.25,8)(229.69,43)(230.00,31)(230.18,31)(230.64,63)(231.05,38)(231.18,38)(231.67,80)(232.17,66)(232.67,97)(232.85,83)(233.16,83)(233.66,124)(233.79,119)(234.16,119)(234.28,124)(234.53,124)(234.78,120)(235.21,120)(235.34,124)(235.65,124)(235.77,122)(236.21,122)(236.27,124)(236.64,124)(236.95,101)(237.20,86)(237.67,123)(238.20,75)(238.69,106)(239.19,85)(239.62,124)(240.00,111)(240.25,111)(240.43,124)(240.68,124)(240.99,104)(241.30,104)(241.61,124)(242.17,96)(242.48,124)(242.75,124)
};
\addlegendentry{Thermal storage}
\end{axis}

\pgfresetboundingbox
\path[use as bounding box] (0pt,0pt) rectangle (434.5pt,-712.5pt);
\end{tikzpicture}
\end{document}
